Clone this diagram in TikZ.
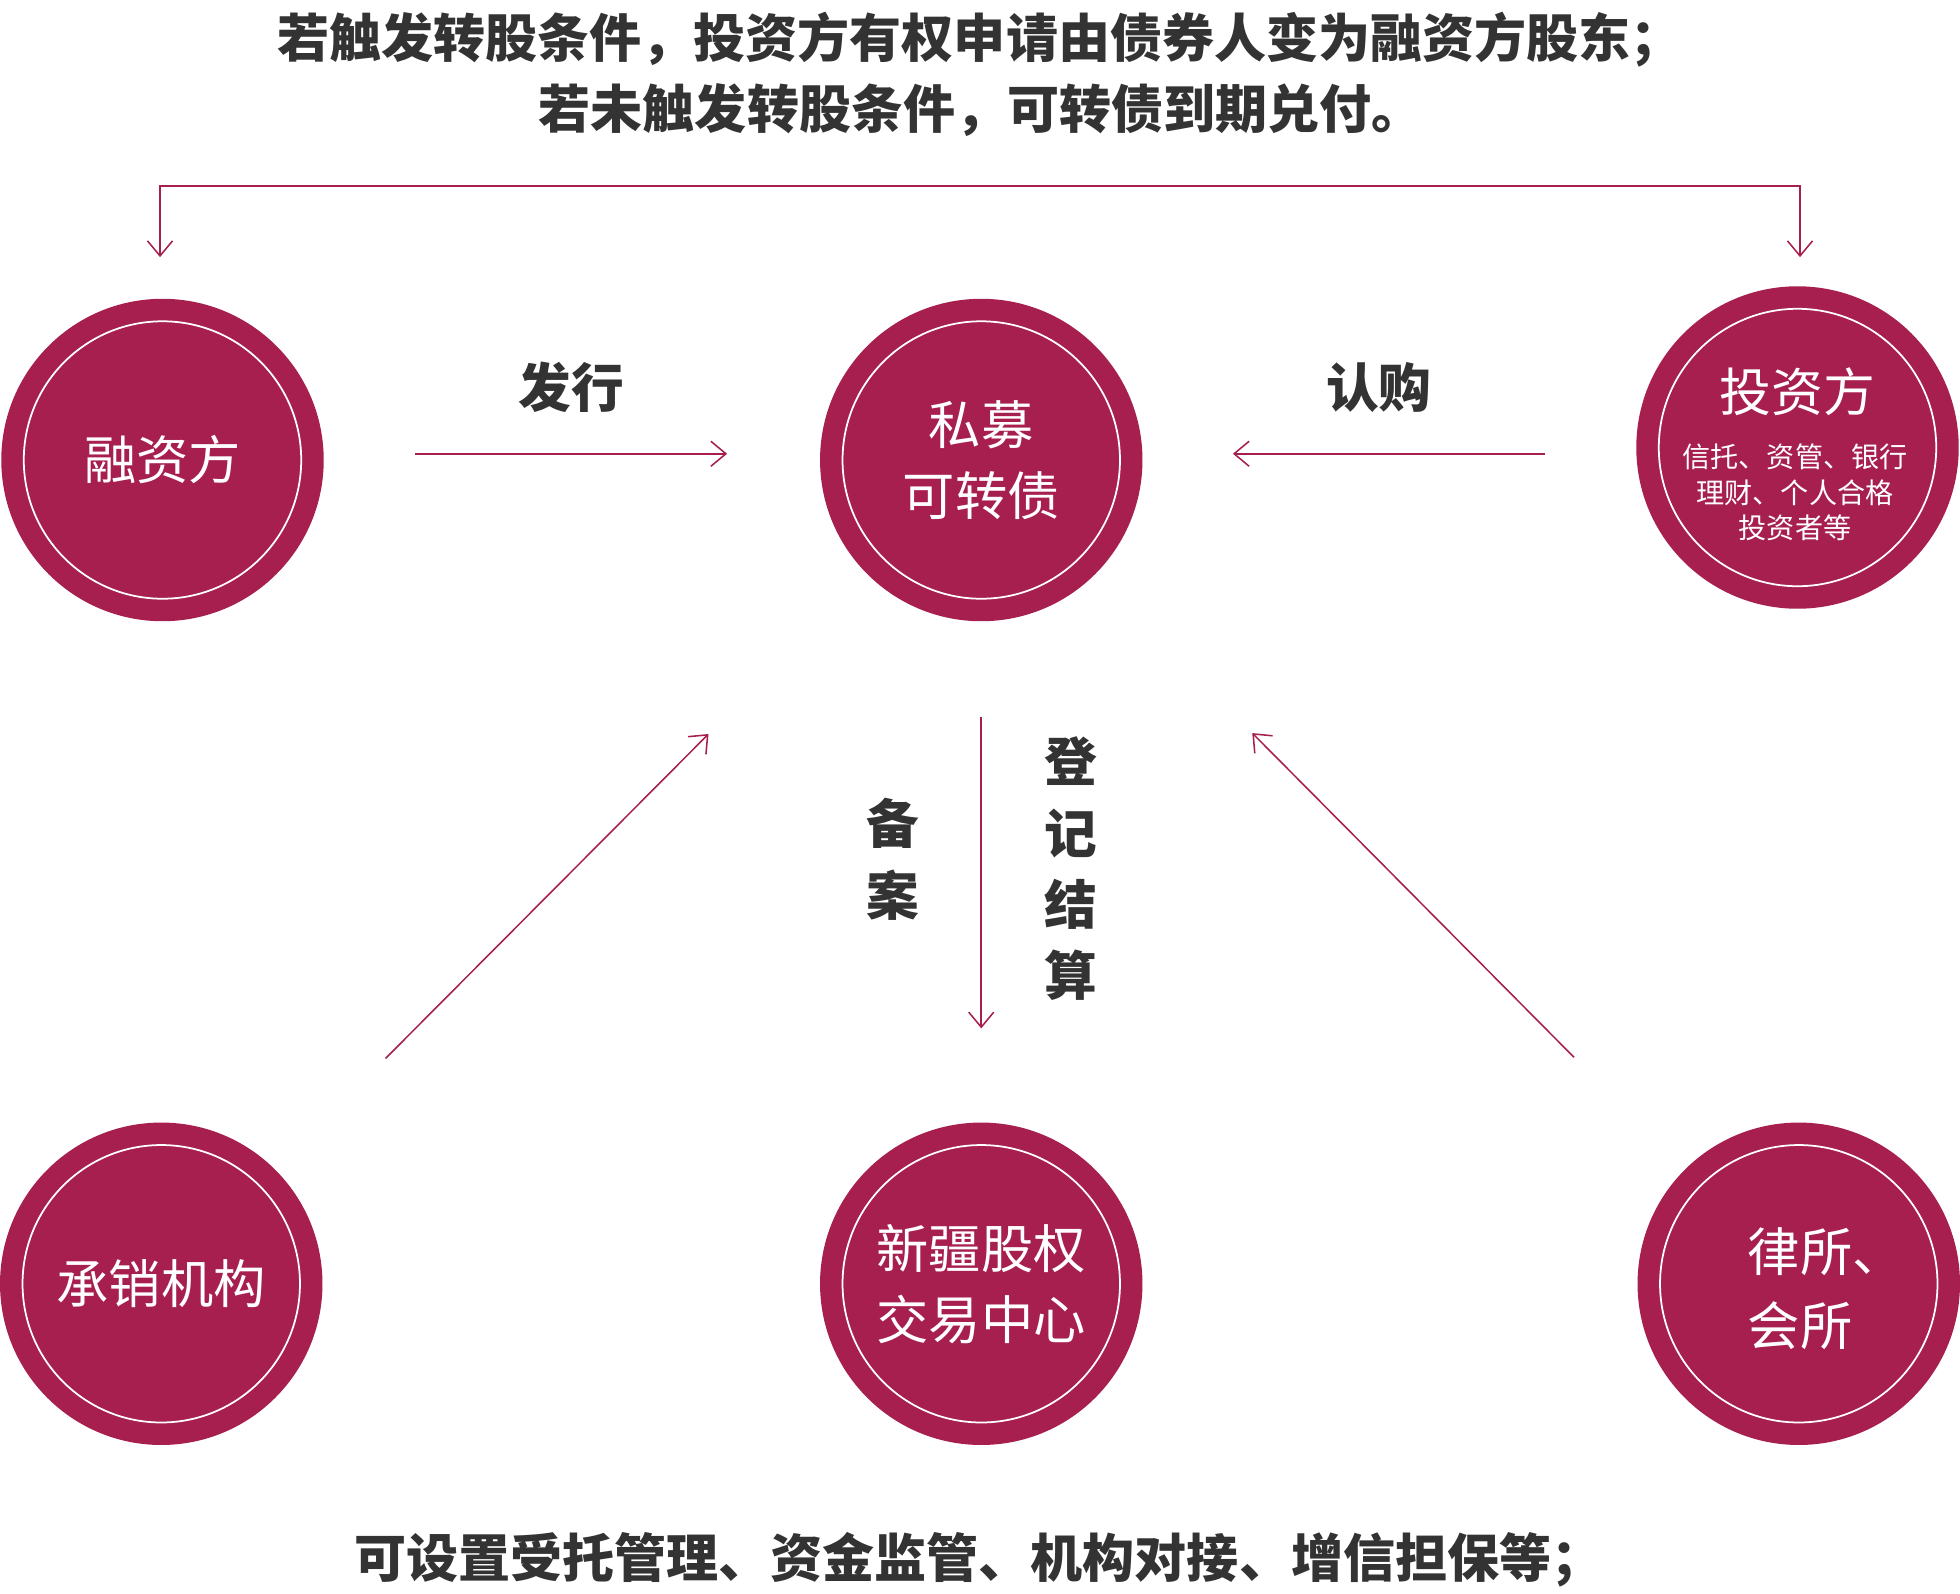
\documentclass[tikz,border=0pt]{standalone}
\usepackage{fontspec}
\setmainfont{Noto Sans CJK SC}
\usetikzlibrary{positioning}
\usetikzlibrary{arrows.meta}

\definecolor{wine}{HTML}{A61F4F}
\definecolor{ink}{HTML}{333333}

\tikzset{
    party/.style={circle, fill=wine, minimum size=5.16cm, inner sep=0pt,
        text=white, align=center, font=\fontsize{23.8}{32.4}\selectfont,
        path picture={\draw[white, line width=0.8pt]
            (path picture bounding box.center) circle[radius=2.22cm];}},
    inside/.style={text=white, inner sep=0pt, align=center},
    flow/.style={draw=wine, line width=0.7pt},
    tag/.style={text=ink, align=center, font=\fontsize{24}{32.5}\selectfont\bfseries},
    head/.style={text=ink, font=\fontsize{23.7}{32}\selectfont\bfseries},
    >={Straight Barb[length=2.4mm,width=4mm]}
}

\begin{document}
\begin{tikzpicture}[x=0.02cm, y=-0.02cm]
        \useasboundingbox (0,0) rectangle (1568,1275);

        \node(t1) [head] at (784,32) {若触发转股条件，投资方有权申请由债券人变为融资方股东；};
        \node(t2) [head] at (785,88) {若未触发转股条件，可转债到期兑付。};
        \node(b1) [head] at (783,1248) {可设置受托管理、资金监管、机构对接、增信担保等；};

        \node(rzf) [party] at (130,368) {融资方};
        \node(smz) [party] at (785,368) {私募\\可转债};
        \node(tzf) [party] at (1438,358) {};
        \node(cx) [party] at (129,1027) {承销机构};
        \node(xj) [party] at (785,1027) {新疆股权\\交易中心};
        \node(ls) [party] at (1439,1027) {};

        \node(tzf1) [inside, font=\fontsize{23.6}{28}\selectfont] at (1438,313) {投资方};
        \node(tzf2) [inside, font=\fontsize{12.8}{16.2}\selectfont] at (1436,394)
            {信托、资管、银行\\理财、个人合格\\投资者等};
        \node(ls1) [inside, align=left, font=\fontsize{23.8}{33.5}\selectfont] at (1461,1031)
            {律所、\\会所};

        \draw[flow, ->] ([shift={(73,-5)}]rzf.east) -- node[tag, yshift=1.06cm] {发行}
            ([shift={(-74,-5)}]smz.west);
        \draw[flow, ->] ([shift={(-73,5)}]tzf.west) -- node[tag, yshift=1.06cm, xshift=-0.16cm] {认购}
            ([shift={(72,-5)}]smz.east);
        \draw[flow, ->, shorten <=1.52cm, shorten >=1.5cm] (smz.south) --
            node[tag, xshift=-1.42cm, yshift=0.2cm] {备\\案}
            node[tag, xshift=1.44cm, yshift=0.05cm] {登\\记\\结\\算}
            (xj.north);
        \draw[flow, ->, shorten <=2.5cm, shorten >=3.6cm] (cx) -- (smz);
        \draw[flow, ->, shorten <=2.52cm, shorten >=3.57cm] (ls) -- (smz);

        \draw[flow, <->] ([shift={(-2,-33)}]rzf.north) -- ++(0,-57)
            -| ([shift={(2,-23)}]tzf.north);
    \end{tikzpicture}
\end{document}
